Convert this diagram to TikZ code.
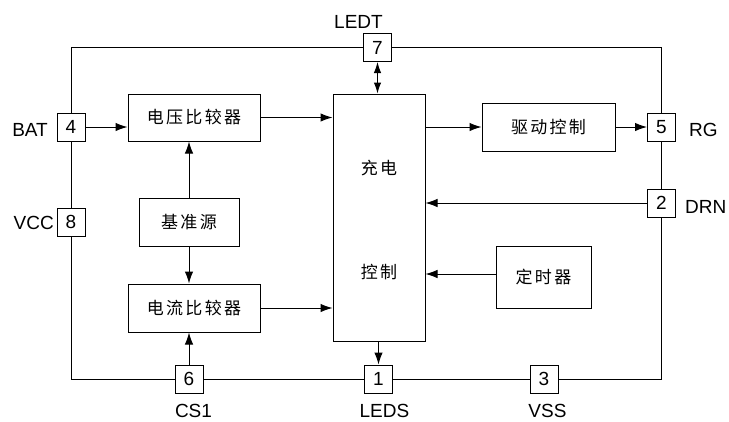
\documentclass[tikz,border=0pt]{standalone}
\usepackage{fontspec}
\setmainfont{Liberation Sans}
\newfontfamily\cjk{Noto Sans CJK SC}
\usetikzlibrary{arrows.meta}
\newcommand\gp{\hspace{2.3pt}}
\begin{document}
\begin{tikzpicture}[x=1pt,y=-1pt,
  pin/.style={draw,line width=1pt,fill=white,minimum width=28pt,minimum height=28pt,inner sep=0pt,font=\fontsize{19}{19}\selectfont},
  blk/.style={draw,line width=1pt,inner sep=0pt,font=\cjk\fontsize{17}{17}\selectfont},
  txt/.style={inner sep=0pt,font=\cjk\fontsize{17}{17}\selectfont},
  lbl/.style={inner sep=0pt,font=\fontsize{19}{19}\selectfont},
  wire/.style={line width=1pt},
  arr/.style={line width=1pt,-{Latex[length=12pt,width=8.5pt]}},
  darr/.style={line width=1pt,{Latex[length=11pt,width=7.5pt]}-{Latex[length=11pt,width=7.5pt]}},
]
\useasboundingbox (0,0) rectangle (729,421);

% pins
\node[pin] (p4) at (71,127) {4};
\node[pin] (p8) at (71,222) {8};
\node[pin] (p7) at (377.5,47.5) {7};
\node[pin] (p5) at (661.5,127.5) {5};
\node[pin] (p2) at (661.5,203) {2};
\node[pin] (p6) at (189,379) {6};
\node[pin] (p1) at (378.5,379) {1};
\node[pin] (p3) at (544,379) {3};

% pin labels
\node[lbl,anchor=base east] (lbat) at (48,136.5) {BAT};
\node[lbl,anchor=base east] (lvcc) at (54,229) {VCC};
\node[lbl,anchor=base] (lledt) at (358.5,28) {LEDT};
\node[lbl,anchor=base west] (lrg) at (689,136) {RG};
\node[lbl,anchor=base west] (ldrn) at (685,213) {DRN};
\node[lbl,anchor=base] (lcs) at (193.5,417.5) {CS1};
\node[lbl,anchor=base] (lleds) at (384.5,417.5) {LEDS};
\node[lbl,anchor=base] (lvss) at (547.5,417.5) {VSS};

% blocks
\node[blk,minimum width=132pt,minimum height=47pt] (vc) at (194,117.5) {电\gp 压\gp 比\gp 较\gp 器};
\node[blk,minimum width=100pt,minimum height=48pt] (ref) at (189,222) {基\gp 准\gp 源};
\node[blk,minimum width=132pt,minimum height=48pt] (cc) at (194,308) {电\gp 流\gp 比\gp 较\gp 器};
\node[blk,minimum width=92pt,minimum height=247pt] (big) at (379,217.5) {};
\node[txt] (t1) at (379,168) {充\gp 电};
\node[txt] (t2) at (379,272) {控\gp 制};
\node[blk,minimum width=133pt,minimum height=48pt] (dr) at (548.5,127) {驱\gp 动\gp 控\gp 制};
\node[blk,minimum width=95pt,minimum height=62pt] (tm) at (543.5,277) {定\gp 时\gp 器};

% frame wires
\draw[wire] (p7.west) -| (p4.north);
\draw[wire] (p4.south) -- (p8.north);
\draw[wire] (p8.south) |- (p6.west);
\draw[wire] (p6.east) -- (p1.west);
\draw[wire] (p1.east) -- (p3.west);
\draw[wire] (p3.east) -| (p2.south);
\draw[wire] (p2.north) -- (p5.south);
\draw[wire] (p5.north) |- (p7.east);

% signal arrows
\draw[arr] (p4.east) -- (p4.east -| vc.west);
\draw[arr] (vc.east) -- (vc.east -| big.west);
\draw[arr] (ref.north) -- (ref.north |- vc.south);
\draw[arr] (ref.south) -- (ref.south |- cc.north);
\draw[arr] (p6.north) -- (p6.north |- cc.south);
\draw[arr] (cc.east) -- (cc.east -| big.west);
\draw[arr] (big.east |- dr.west) -- (dr.west);
\draw[arr] (dr.east) -- (dr.east -| p5.west);
\draw[arr] (p2.west) -- (p2.west -| big.east);
\draw[arr] ([yshift=3pt]tm.west) -- ([yshift=3pt]tm.west -| big.east);
\draw[arr] (big.south -| p1.north) -- (p1.north);
\draw[darr] (p7.south) -- (p7.south |- big.north);
\end{tikzpicture}
\end{document}
